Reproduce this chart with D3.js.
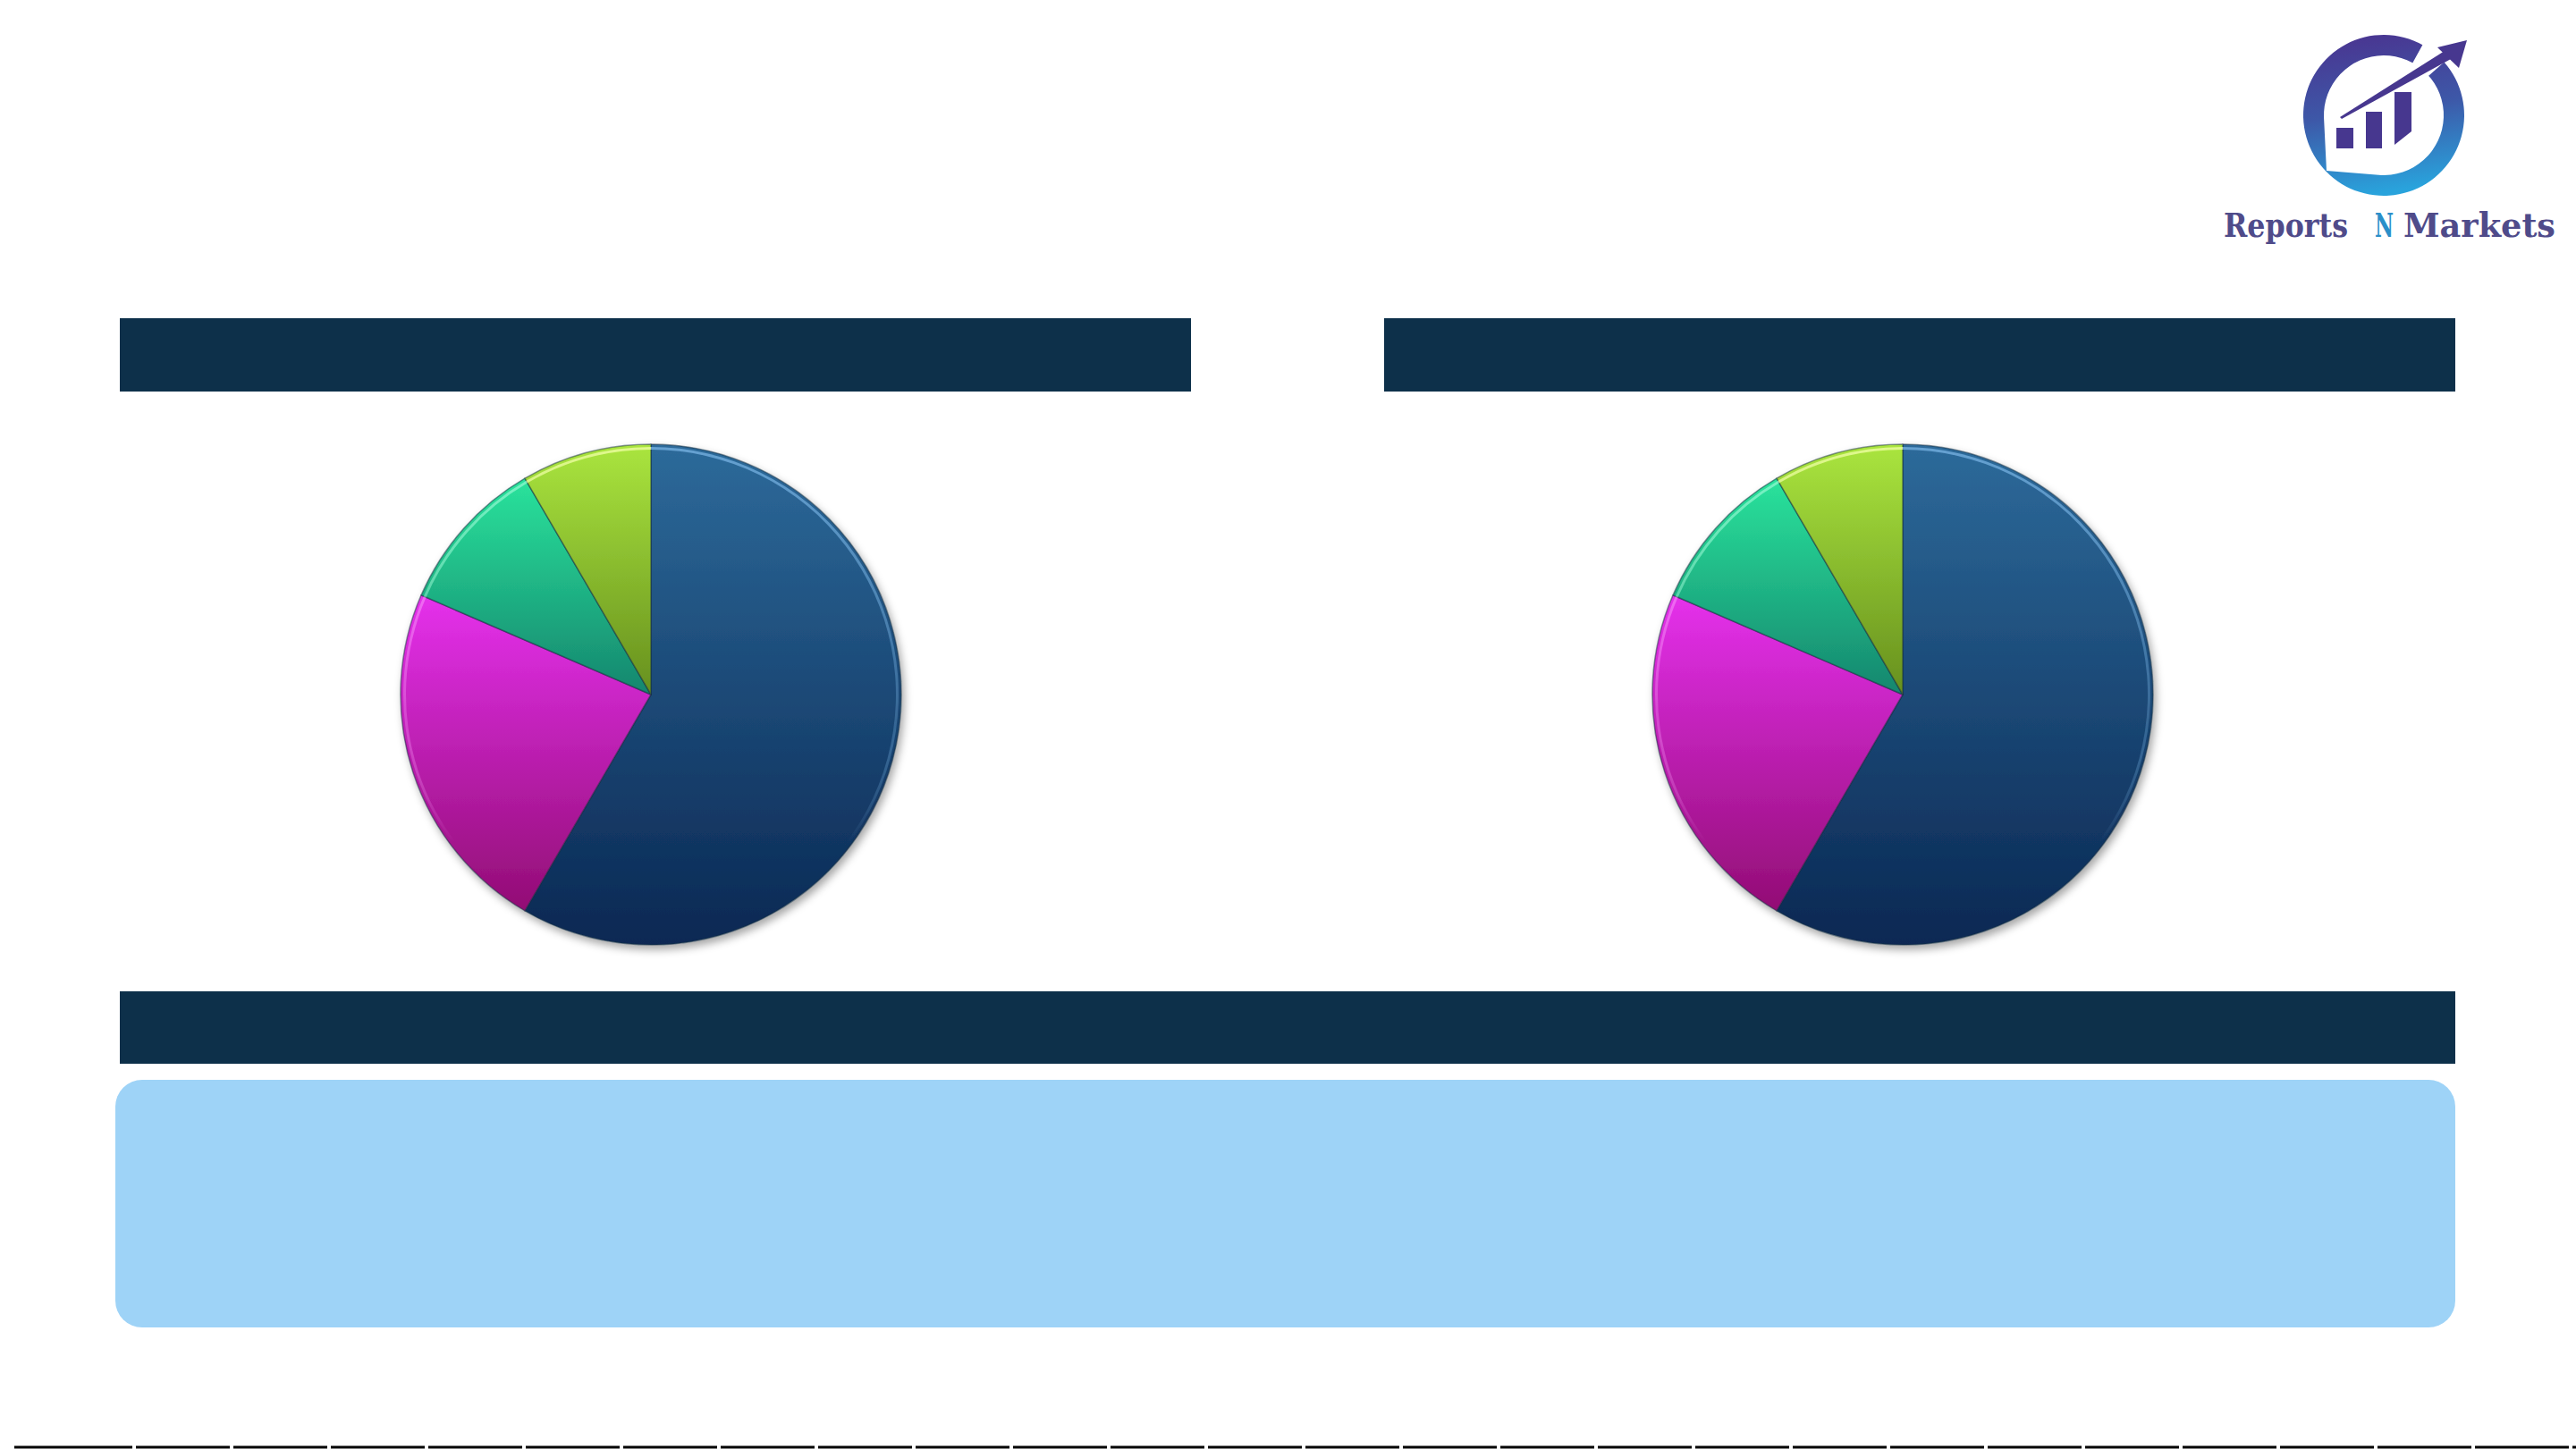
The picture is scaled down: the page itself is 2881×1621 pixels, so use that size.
<!DOCTYPE html>
<html>
<head>
<meta charset="utf-8">
<script src="https://cdn.jsdelivr.net/npm/d3@7"></script>
<style>
  body { margin: 0; background: #fff; }
  svg { display: block; }
</style>
</head>
<body>
<div id="chart"></div>
<script>
// slice shares (clockwise from 12 o'clock)
var segments = ["Segment 1", "Segment 2", "Segment 3", "Segment 4"];
var leftShares = [58.4, 23.1, 10.1, 8.4];
var rightShares = [58.4, 23.1, 10.1, 8.4];
var brandWords = ["Reports", "N", "Markets"];

var W = 2881, H = 1621;

var sliceColors = [
	{ top: "#2d6a9a", bottom: "#0a2853", edge: "#7ab4e4" },
	{ top: "#e531ec", bottom: "#920d74", edge: "#f8a0fa" },
	{ top: "#2ae39c", bottom: "#15866e", edge: "#9af8d4" },
	{ top: "#aae53e", bottom: "#67901e", edge: "#f2ffa8" }
];

var svg = d3.select("#chart").append("svg")
	.attr("width", W)
	.attr("height", H)
	.attr("viewBox", [0, 0, W, H].join(" "));

var defs = svg.append("defs");

sliceColors.forEach(function(c, i) {
	var g = defs.append("linearGradient")
		.attr("id", "slice" + i)
		.attr("x1", 0).attr("y1", 0)
		.attr("x2", 0).attr("y2", 1);
	g.append("stop").attr("offset", "0%").attr("stop-color", c.top);
	g.append("stop").attr("offset", "100%").attr("stop-color", c.bottom);
});

var shadow = defs.append("filter")
	.attr("id", "pieShadow")
	.attr("x", "-10%").attr("y", "-10%")
	.attr("width", "125%").attr("height", "125%");
shadow.append("feDropShadow")
	.attr("dx", 3).attr("dy", 5)
	.attr("stdDeviation", 5)
	.attr("flood-color", "#000")
	.attr("flood-opacity", 0.35);

// fades the rim highlight out towards the bottom of each pie
var fade = defs.append("linearGradient")
	.attr("id", "rimFade")
	.attr("x1", 0).attr("y1", 0).attr("x2", 0).attr("y2", 1);
fade.append("stop").attr("offset", "0%").attr("stop-color", "#fff");
fade.append("stop").attr("offset", "55%").attr("stop-color", "#fff").attr("stop-opacity", 0.4);
fade.append("stop").attr("offset", "80%").attr("stop-color", "#000");
var rimMask = defs.append("mask")
	.attr("id", "rimMask")
	.attr("maskContentUnits", "objectBoundingBox");
rimMask.append("rect")
	.attr("width", 1).attr("height", 1)
	.attr("fill", "url(#rimFade)");

// header bars + bottom banner
var bars = [
	{ x: 134, y: 356, w: 1198, h: 82 },
	{ x: 1548, y: 356, w: 1198, h: 82 },
	{ x: 134, y: 1109, w: 2612, h: 81 }
];
svg.selectAll("rect.head").data(bars).enter().append("rect")
	.attr("class", "head")
	.attr("x", function(d) { return d.x; })
	.attr("y", function(d) { return d.y; })
	.attr("width", function(d) { return d.w; })
	.attr("height", function(d) { return d.h; })
	.attr("fill", "#0d304a");

svg.append("rect")
	.attr("x", 129).attr("y", 1208)
	.attr("width", 2617).attr("height", 277)
	.attr("rx", 30).attr("ry", 30)
	.attr("fill", "#9ed3f7");

// pies
var R = 280;
var pie = d3.pie().sort(null).value(function(d) { return d; });
var arc = d3.arc().innerRadius(0).outerRadius(R);
var rim = d3.arc().innerRadius(R - 6).outerRadius(R - 3);

var drawPie = function(cx, cy, shares) {
	var g = svg.append("g")
		.attr("transform", "translate(" + cx + "," + cy + ")");
	var arcs = pie(shares);
	g.append("g")
		.attr("filter", "url(#pieShadow)")
		.selectAll("path").data(arcs).enter().append("path")
		.attr("d", arc)
		.attr("fill", function(d, i) { return "url(#slice" + i + ")"; })
		.attr("stroke", "#173042")
		.attr("stroke-opacity", 0.5)
		.attr("stroke-width", 1.5)
		.attr("stroke-linejoin", "round");
	// thin bevel highlight just inside the rim
	g.append("g")
		.attr("mask", "url(#rimMask)")
		.selectAll("path").data(arcs).enter().append("path")
		.attr("d", rim)
		.attr("fill", function(d, i) { return sliceColors[i].edge; })
		.attr("fill-opacity", 0.75);
};

drawPie(728, 777, leftShares);
drawPie(2128, 777, rightShares);

// bottom rule, black with tiny breaks
var rule = svg.append("g");
var starts = [14].concat(d3.range(150, W, 109));
starts.forEach(function(s, i) {
	var e = (i < starts.length - 1) ? starts[i + 1] - 2 : W;
	rule.append("line")
		.attr("x1", s + 2).attr("x2", e)
		.attr("y1", 1619).attr("y2", 1619)
		.attr("stroke", "#000")
		.attr("stroke-width", 3);
});

// logo
var logo = svg.append("g").attr("transform", "translate(2666,129)");
var lg = defs.append("linearGradient")
	.attr("id", "ringGrad")
	.attr("x1", 0.2).attr("y1", 0).attr("x2", 0.35).attr("y2", 1);
lg.append("stop").attr("offset", "0%").attr("stop-color", "#4a3490");
lg.append("stop").attr("offset", "50%").attr("stop-color", "#3d58a8");
lg.append("stop").attr("offset", "100%").attr("stop-color", "#29a3dc");

var ringArc = d3.arc()
	.innerRadius(0).outerRadius(90)
	.startAngle(Math.PI * 0.27)
	.endAngle(Math.PI * 2 + Math.PI * 0.16);
logo.append("path")
	.attr("d", ringArc())
	.attr("fill", "url(#ringGrad)");

// white teardrop hole, pointing to the lower left
var hr = 67, tip = [-64, 62];
var td = Math.sqrt(tip[0] * tip[0] + tip[1] * tip[1]);
var ta = Math.atan2(tip[1], tip[0]);
var off = Math.acos(hr / td);
var p1 = [hr * Math.cos(ta - off), hr * Math.sin(ta - off)];
var p2 = [hr * Math.cos(ta + off), hr * Math.sin(ta + off)];
logo.append("path")
	.attr("d", "M" + tip + " L" + p2 + " A" + hr + "," + hr + " 0 1,1 " + p1 + " Z")
	.attr("fill", "#fff");

var logoBars = [
	[-53, 14, 19, 23],
	[-20, -4, 18, 41],
	[12, -26, 19, 59]
];
logo.selectAll("rect.lb").data(logoBars).enter().append("rect")
	.attr("class", "lb")
	.attr("x", function(d) { return d[0]; })
	.attr("y", function(d) { return d[1]; })
	.attr("width", function(d) { return d[2]; })
	.attr("height", function(d) { return d[3]; })
	.attr("fill", "#47378f");
// slanted cut under the tall bar
logo.append("path")
	.attr("d", "M12,33 L31,18 L31,34 Z")
	.attr("fill", "#fff");

// arrow: tapering shaft through the gap in the ring, then head
logo.append("path")
	.attr("d", "M-49,2 L68,-72 L75,-63 L-47,4 Z")
	.attr("fill", "#47378f");
logo.append("path")
	.attr("d", "M93,-84 L60,-76 L84,-53 Z")
	.attr("fill", "#47378f");

var wordPos = [
	{ x: 2487, w: 139 },
	{ x: 2656, w: 21 },
	{ x: 2688, w: 170 }
];
svg.selectAll("text.brand").data(brandWords).enter().append("text")
	.attr("class", "brand")
	.attr("x", function(d, i) { return wordPos[i].x; })
	.attr("y", 265)
	.attr("font-family", "'DejaVu Serif', 'Liberation Serif', serif")
	.attr("font-size", 38)
	.attr("font-weight", "600")
	.attr("textLength", function(d, i) { return wordPos[i].w; })
	.attr("lengthAdjust", "spacingAndGlyphs")
	.attr("fill", function(d) { return d === "N" ? "#2b8fc9" : "#4f4b8a"; })
	.text(function(d) { return d; });
</script>
</body>
</html>
